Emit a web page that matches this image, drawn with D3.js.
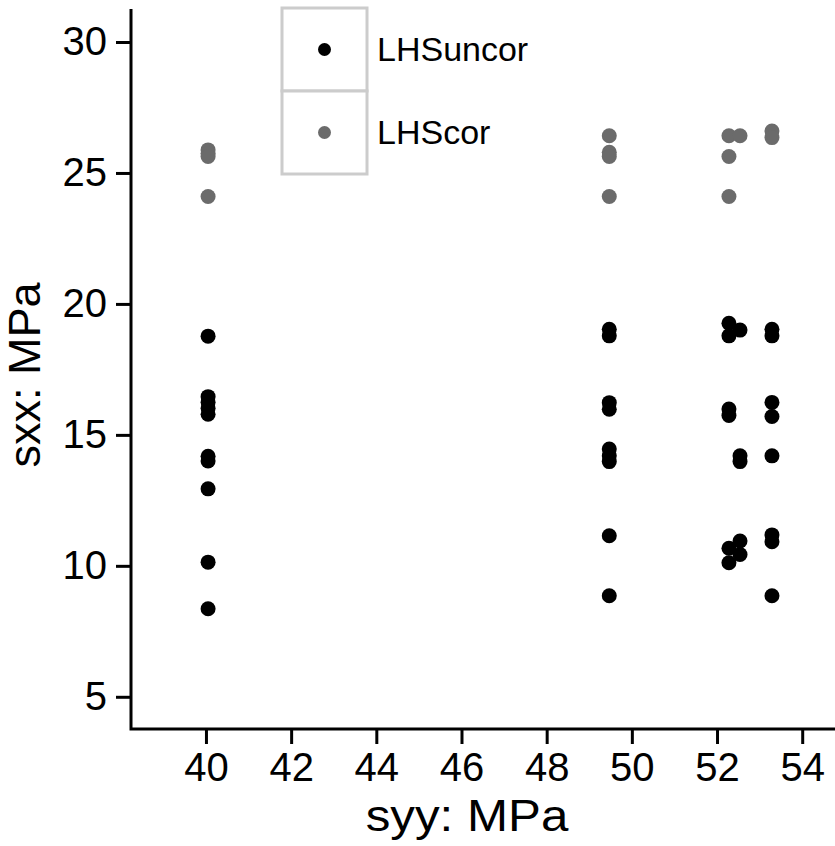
<!DOCTYPE html>
<html>
<head>
<meta charset="utf-8">
<script src="https://cdn.jsdelivr.net/npm/d3@7/dist/d3.min.js"></script>
<style>
  html, body { margin: 0; padding: 0; background: #fff; }
  svg { display: block; font-family: "Liberation Sans", Arial, sans-serif; }
</style>
</head>
<body>
<svg id="chart" width="835" height="846"></svg>
<script>
// Uncorrected measurements (syy, sxx) in MPa
const uncorSyy = [
  40.05, 40.05, 40.05, 40.05, 40.05, 40.05, 40.05, 40.05, 40.05, 40.05,
  49.47, 49.47, 49.47, 49.47, 49.47, 49.47, 49.47, 49.47, 49.47,
  52.28, 52.28, 52.28, 52.28, 52.28, 52.28,
  52.54, 52.54, 52.54, 52.54, 52.54,
  53.29, 53.29, 53.29, 53.29, 53.29, 53.29, 53.29, 53.29
];
const uncorSxx = [
  18.77, 16.46, 16.25, 16.02, 15.79, 14.18, 14.0, 12.94, 10.14, 8.36,
  19.03, 18.78, 16.23, 15.98, 14.46, 14.2, 13.98, 11.15, 8.86,
  19.26, 18.78, 15.99, 15.74, 10.67, 10.12,
  19.0, 14.2, 13.98, 10.95, 10.43,
  19.03, 18.78, 16.24, 15.7, 14.2, 11.18, 10.92, 8.86
];

// Corrected measurements (syy, sxx) in MPa
const corSyy = [
  40.05, 40.05, 40.05, 40.05,
  49.47, 49.47, 49.47, 49.47,
  52.28, 52.28, 52.28,
  52.54,
  53.29, 53.29
];
const corSxx = [
  25.88, 25.75, 25.63, 24.1,
  26.42, 25.79, 25.63, 24.1,
  26.42, 25.63, 24.1,
  26.42,
  26.6, 26.35
];

const xTicks = [40, 42, 44, 46, 48, 50, 52, 54];
const yTicks = [5, 10, 15, 20, 25, 30];
const seriesNames = ["LHSuncor", "LHScor"];
const seriesColors = ["#000000", "#6b6b6b"];

const svg = d3.select("#chart");
const plot = { left: 131, right: 835, top: 9, bottom: 729 };

const x = d3.scaleLinear().domain([38.24, 54.77]).range([plot.left, plot.right]);
const y = d3.scaleLinear().domain([3.77, 31.26]).range([plot.bottom, plot.top]);

// Axes
const xAxis = svg.append("g")
  .attr("transform", `translate(0,${plot.bottom})`)
  .call(d3.axisBottom(x).tickValues(xTicks).tickSize(15).tickSizeOuter(0).tickPadding(9));
const yAxis = svg.append("g")
  .attr("transform", `translate(${plot.left},0)`)
  .call(d3.axisLeft(y).tickValues(yTicks).tickSize(15).tickSizeOuter(0).tickPadding(9));

[xAxis, yAxis].forEach(g => {
  g.select(".domain").remove();
  g.selectAll(".tick line").attr("stroke", "#000").attr("stroke-width", 3);
  g.selectAll(".tick text")
    .attr("fill", "#000")
    .style("font-family", "'Liberation Sans', Arial, sans-serif")
    .style("font-size", "40px");
});

// L-shaped axis frame
svg.append("path")
  .attr("d", `M${plot.left},${plot.top} V${plot.bottom} H${plot.right}`)
  .attr("fill", "none")
  .attr("stroke", "#000")
  .attr("stroke-width", 3);

// Axis titles
svg.append("text")
  .attr("transform", "translate(467,831) scale(1.12,1)")
  .attr("text-anchor", "middle")
  .style("font-size", "44px")
  .text("syy: MPa");
svg.append("text")
  .attr("transform", "translate(40,375) rotate(-90)")
  .attr("text-anchor", "middle")
  .style("font-size", "45px")
  .text("sxx: MPa");

// Points
const uncor = uncorSyy.map((v, i) => ({ syy: v, sxx: uncorSxx[i] }));
const cor = corSyy.map((v, i) => ({ syy: v, sxx: corSxx[i] }));

svg.append("g").selectAll("circle").data(uncor).join("circle")
  .attr("cx", d => x(d.syy)).attr("cy", d => y(d.sxx)).attr("r", 7.5)
  .attr("fill", seriesColors[0]);
svg.append("g").selectAll("circle").data(cor).join("circle")
  .attr("cx", d => x(d.syy)).attr("cy", d => y(d.sxx)).attr("r", 7.5)
  .attr("fill", seriesColors[1]);

// Legend
const legend = svg.append("g").attr("transform", "translate(282,8)");
const keyW = 85, keyH = 83;
seriesNames.forEach((name, i) => {
  const row = legend.append("g").attr("transform", `translate(0,${i * keyH})`);
  row.append("rect")
    .attr("x", 0).attr("y", 0).attr("width", keyW).attr("height", keyH)
    .attr("fill", "#fff").attr("stroke", "#cccccc").attr("stroke-width", 3);
  row.append("circle")
    .attr("cx", keyW / 2).attr("cy", keyH / 2).attr("r", 6.5)
    .attr("fill", seriesColors[i]);
  row.append("text")
    .attr("x", keyW + 10).attr("y", keyH / 2)
    .attr("dy", "0.35em")
    .style("font-size", "34px")
    .text(name);
});
</script>
</body>
</html>
